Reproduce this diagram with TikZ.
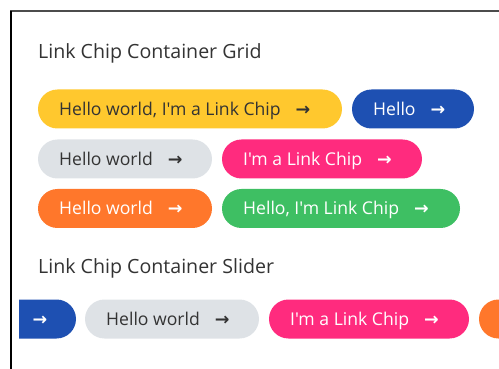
\documentclass[tikz,border=0pt]{standalone}
\usepackage{fontspec}
\setmainfont{Open Sans}[Ligatures=TeXOff]
\newfontfamily\arrowfont{DejaVu Sans}[BoldFont=DejaVu Sans Bold]
\definecolor{cyellow}{HTML}{FFC82E}
\definecolor{cblue}{HTML}{1E50B2}
\definecolor{cgray}{HTML}{DEE2E6}
\definecolor{cpink}{HTML}{FF2B7E}
\definecolor{corange}{HTML}{FF772B}
\definecolor{cgreen}{HTML}{3EBF63}
\definecolor{ctext}{HTML}{333333}
\tikzset{
  chipbg/.style={rounded corners=19.5pt},
  chiptext/.style={anchor=base west, inner sep=0pt, font=\fontsize{17.6}{20}\selectfont},
  title/.style={anchor=base west, inner sep=0pt, text=ctext, font=\fontsize{19.6}{22}\selectfont},
  frame/.style={line width=1.4pt}
}
% #1 name, #2 left x, #3 right x, #4 center y, #5 fill, #6 text colour, #7 text
\newcommand\mychip[7]{%
  \fill[chipbg, #5] (#2,#4+19.5) rectangle (#3,#4-19.5);
  \node[chiptext, text=#6] (#1) at (#2+21,#4-6.3) {#7\hspace{15pt}{\arrowfont\bfseries\fontsize{17.5}{20}\selectfont →}};
}
\begin{document}
\begin{tikzpicture}[x=1pt,y=1pt]
\useasboundingbox (0,0) rectangle (499,-369);
\coordinate (tl) at (11,-11);
\coordinate (tr) at (499,-11);
\coordinate (bl) at (11,-369);
\draw[frame, color=black!70] (10,-11) -- (tr);
\draw[frame] (tl) -- (bl);
\node[title] (t1) at (38,-59) {Link Chip Container Grid};
\mychip{a1}{38}{342}{-109}{cyellow}{ctext}{Hello world, I'm a Link Chip}
\mychip{a2}{352}{474}{-109}{cblue}{white}{Hello}
\mychip{b1}{38}{212}{-159}{cgray}{ctext}{Hello world}
\mychip{b2}{222}{422}{-159}{cpink}{white}{I'm a Link Chip}
\mychip{c1}{38}{212}{-208.5}{corange}{white}{Hello world}
\mychip{c2}{222}{460}{-208.5}{cgreen}{white}{Hello, I'm Link Chip}
\node[title] (t2) at (38,-273) {Link Chip Container Slider};
\begin{scope}
\clip (19,-250) rectangle (499,-369);
\mychip{s1}{-46}{76}{-319}{cblue}{white}{Hello}
\mychip{s2}{85}{259}{-319}{cgray}{ctext}{Hello world}
\mychip{s3}{269}{469}{-319}{cpink}{white}{I'm a Link Chip}
\mychip{s4}{479}{653}{-319}{corange}{white}{Hello world}
\end{scope}
\end{tikzpicture}
\end{document}
